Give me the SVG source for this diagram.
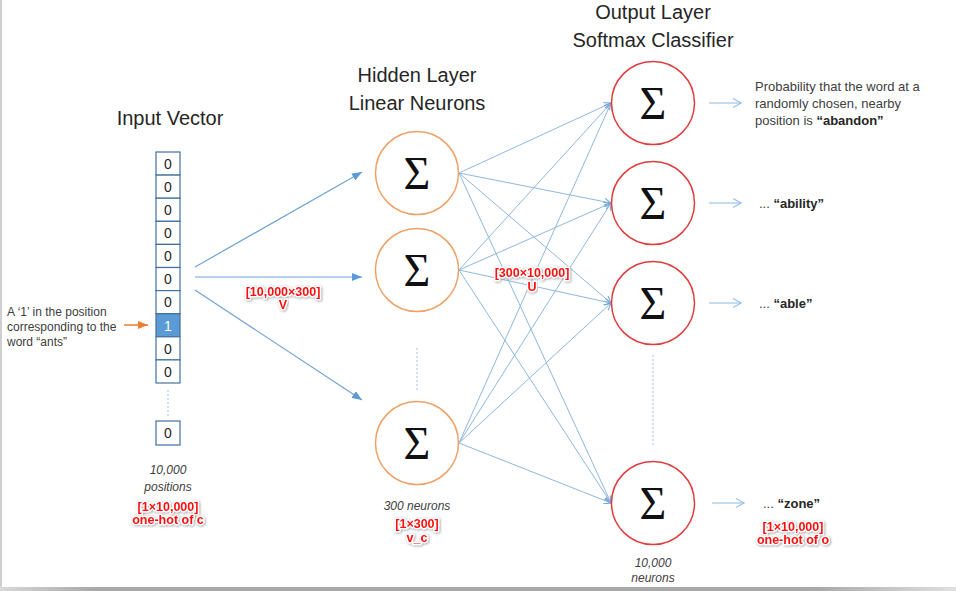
<svg xmlns="http://www.w3.org/2000/svg" width="956" height="591" viewBox="0 0 956 591">
<style>
.title{font-family:"Liberation Sans",Arial,sans-serif;font-size:20px;fill:#262626;text-anchor:middle}
.txt{font-family:"Liberation Sans",Arial,sans-serif;font-size:12px;fill:#404040}
.rtxt{font-family:"Liberation Sans",Arial,sans-serif;font-size:13px;fill:#404040}
.it{font-family:"Liberation Sans",Arial,sans-serif;font-size:12px;font-style:italic;fill:#404040;text-anchor:middle}
.red{font-family:"Liberation Sans",Arial,sans-serif;font-size:12.5px;font-weight:bold;fill:#ff1010;text-anchor:middle;stroke:#fff;stroke-width:3px;paint-order:stroke;stroke-linejoin:round}
.cell{fill:#fff;stroke:#41719c;stroke-width:1.2}
.cellt{font-family:"Liberation Sans",Arial,sans-serif;font-size:14px;fill:#262626;text-anchor:middle}
.hid{fill:#fff;stroke:#f0a064;stroke-width:1.5}
.out{fill:#fff;stroke:#e03c3c;stroke-width:1.5}
.sig{font-family:"Liberation Serif","Times New Roman",serif;font-size:46px;fill:#111;text-anchor:middle}
.in{stroke:#6fa3d6;stroke-width:1.2;fill:none}
.hw{stroke:#8db8e0;stroke-width:1;fill:none}
.oa{stroke:#9dc3e6;stroke-width:1.2;fill:none}
.dot{stroke:#9dc3e6;stroke-width:1;stroke-dasharray:2 2;fill:none}
</style>
<defs>
<marker id="ahIn" markerWidth="10" markerHeight="8" refX="10" refY="4" orient="auto" markerUnits="userSpaceOnUse"><path d="M0,0 L10,4 L0,8 z" fill="#5b9bd5"/></marker>
<marker id="ahHw" markerWidth="8" markerHeight="8" refX="7" refY="4" orient="auto" markerUnits="userSpaceOnUse"><path d="M0,0.5 L7,4 L0,7.5" fill="none" stroke="#6fa3d6" stroke-width="1"/></marker>
<marker id="ahOa" markerWidth="10" markerHeight="10" refX="9" refY="5" orient="auto" markerUnits="userSpaceOnUse"><path d="M1,0.5 L9,5 L1,9.5" fill="none" stroke="#9dc3e6" stroke-width="1.2"/></marker>
<marker id="ahOr" markerWidth="10" markerHeight="8" refX="10" refY="4" orient="auto" markerUnits="userSpaceOnUse"><path d="M0,0 L10,4 L0,8 z" fill="#ed7d31"/></marker>
<linearGradient id="bot" x1="0" y1="0" x2="1" y2="0"><stop offset="0" stop-color="#d8d8d8"/><stop offset="0.1" stop-color="#a8a8a8"/><stop offset="0.85" stop-color="#a8a8a8"/><stop offset="1" stop-color="#e0e0e0"/></linearGradient>
<filter id="sh" x="-10%" y="-30%" width="120%" height="160%"><feDropShadow dx="0.8" dy="0.8" stdDeviation="0.8" flood-color="#888" flood-opacity="0.8"/></filter>
</defs>
<rect x="0" y="0" width="956" height="591" fill="#fff"/>
<rect x="0" y="0" width="2" height="591" fill="#cfcfcf"/>
<rect x="0" y="587" width="956" height="4" fill="url(#bot)"/>

<!-- titles -->
<text class="title" x="170" y="125">Input Vector</text>
<text class="title" x="417" y="82">Hidden Layer</text>
<text class="title" x="417" y="110">Linear Neurons</text>
<text class="title" x="653" y="19">Output Layer</text>
<text class="title" x="653" y="47">Softmax Classifier</text>

<!-- connectors -->
<g id="connectors">
<line class="in" x1="195" y1="267" x2="362" y2="172" marker-end="url(#ahIn)"/>
<line class="in" x1="195" y1="277" x2="362" y2="277" marker-end="url(#ahIn)"/>
<line class="in" x1="195" y1="290" x2="362" y2="400" marker-end="url(#ahIn)"/>
<line x1="124" y1="325" x2="148" y2="325" stroke="#ed7d31" stroke-width="1.5" marker-end="url(#ahOr)"/>
<g class="hw">
<line x1="459" y1="173" x2="611" y2="103" marker-end="url(#ahHw)"/>
<line x1="459" y1="173" x2="611" y2="203" marker-end="url(#ahHw)"/>
<line x1="459" y1="173" x2="611" y2="303" marker-end="url(#ahHw)"/>
<line x1="459" y1="173" x2="611" y2="503" marker-end="url(#ahHw)"/>
<line x1="459" y1="270" x2="611" y2="103" marker-end="url(#ahHw)"/>
<line x1="459" y1="270" x2="611" y2="203" marker-end="url(#ahHw)"/>
<line x1="459" y1="270" x2="611" y2="303" marker-end="url(#ahHw)"/>
<line x1="459" y1="270" x2="611" y2="503" marker-end="url(#ahHw)"/>
<line x1="459" y1="443" x2="611" y2="103" marker-end="url(#ahHw)"/>
<line x1="459" y1="443" x2="611" y2="203" marker-end="url(#ahHw)"/>
<line x1="459" y1="443" x2="611" y2="303" marker-end="url(#ahHw)"/>
<line x1="459" y1="443" x2="611" y2="503" marker-end="url(#ahHw)"/>
</g>
<line class="oa" x1="709" y1="103" x2="741" y2="103" marker-end="url(#ahOa)"/>
<line class="oa" x1="709" y1="203" x2="741" y2="203" marker-end="url(#ahOa)"/>
<line class="oa" x1="709" y1="303" x2="741" y2="303" marker-end="url(#ahOa)"/>
<line class="oa" x1="712" y1="503" x2="744" y2="503" marker-end="url(#ahOa)"/>
<line class="dot" x1="168" y1="390" x2="168" y2="417"/>
<line class="dot" x1="417" y1="348" x2="417" y2="392"/>
<line class="dot" x1="653" y1="355" x2="653" y2="446"/>
</g>

<!-- input vector -->
<g id="input-vector">
<rect class="cell" x="156" y="152" width="24" height="23.1"/>
<rect class="cell" x="156" y="175.1" width="24" height="23.1"/>
<rect class="cell" x="156" y="198.2" width="24" height="23.1"/>
<rect class="cell" x="156" y="221.3" width="24" height="23.1"/>
<rect class="cell" x="156" y="244.4" width="24" height="23.1"/>
<rect class="cell" x="156" y="267.5" width="24" height="23.1"/>
<rect class="cell" x="156" y="290.6" width="24" height="23.1"/>
<rect x="156" y="313.7" width="24" height="23.1" fill="#5b9bd5" stroke="#41719c" stroke-width="1.2"/>
<rect class="cell" x="156" y="336.8" width="24" height="23.1"/>
<rect class="cell" x="156" y="359.9" width="24" height="23.1"/>
<rect class="cell" x="156" y="421" width="24" height="24"/>
<text class="cellt" x="168" y="168.8">0</text>
<text class="cellt" x="168" y="191.9">0</text>
<text class="cellt" x="168" y="215">0</text>
<text class="cellt" x="168" y="238.1">0</text>
<text class="cellt" x="168" y="261.2">0</text>
<text class="cellt" x="168" y="284.3">0</text>
<text class="cellt" x="168" y="307.4">0</text>
<text class="cellt" x="168" y="330.5" style="fill:#fff">1</text>
<text class="cellt" x="168" y="353.6">0</text>
<text class="cellt" x="168" y="376.7">0</text>
<text class="cellt" x="168" y="438">0</text>
</g>
<g id="input-note">
<text class="txt" x="7" y="316">A ‘1’ in the position</text>
<text class="txt" x="7" y="331">corresponding to the</text>
<text class="txt" x="7" y="346">word “ants”</text>
</g>
<g id="input-caption">
<text class="it" x="168" y="474">10,000</text>
<text class="it" x="168" y="491">positions</text>
<text class="red" x="168" y="511" filter="url(#sh)">[1×10,000]</text>
<text class="red" x="168" y="524" filter="url(#sh)">one-hot of c</text>
</g>
<g id="label-V">
<text class="red" x="283" y="296" filter="url(#sh)">[10,000×300]</text>
<text class="red" x="283" y="309" filter="url(#sh)">V</text>
</g>

<!-- hidden -->
<g id="hidden-1"><circle class="hid" cx="417" cy="173" r="41.5"/><text class="sig" x="417" y="189">Σ</text></g>
<g id="hidden-2"><circle class="hid" cx="417" cy="270" r="41.5"/><text class="sig" x="417" y="286">Σ</text></g>
<g id="hidden-3"><circle class="hid" cx="417" cy="443" r="41.5"/><text class="sig" x="417" y="459">Σ</text></g>
<g id="hidden-caption">
<text class="it" x="417" y="510">300 neurons</text>
<text class="red" x="417" y="528" filter="url(#sh)">[1×300]</text>
<text class="red" x="417" y="542" filter="url(#sh)">v_c</text>
</g>
<g id="label-U">
<text class="red" x="532" y="277" filter="url(#sh)">[300×10,000]</text>
<text class="red" x="532" y="291" filter="url(#sh)">U</text>
</g>

<!-- output -->
<g id="output-1"><circle class="out" cx="653" cy="103" r="41.5"/><text class="sig" x="653" y="119">Σ</text></g>
<g id="output-2"><circle class="out" cx="653" cy="203" r="41.5"/><text class="sig" x="653" y="219">Σ</text></g>
<g id="output-3"><circle class="out" cx="653" cy="303" r="41.5"/><text class="sig" x="653" y="319">Σ</text></g>
<g id="output-4"><circle class="out" cx="653" cy="503" r="41.5"/><text class="sig" x="653" y="519">Σ</text></g>
<g id="output-caption">
<text class="it" x="653" y="567">10,000</text>
<text class="it" x="653" y="582">neurons</text>
</g>
<g id="output-labels">
<text class="rtxt" x="755" y="90.5">Probability that the word at a</text>
<text class="rtxt" x="755" y="107.5">randomly chosen, nearby</text>
<text class="rtxt" x="755" y="124.5">position is <tspan font-weight="bold" fill="#262626">“abandon”</tspan></text>
<text class="rtxt" x="759" y="207.5">... <tspan font-weight="bold" fill="#262626">“ability”</tspan></text>
<text class="rtxt" x="759" y="307.5">... <tspan font-weight="bold" fill="#262626">“able”</tspan></text>
<text class="rtxt" x="763" y="507.5">... <tspan font-weight="bold" fill="#262626">“zone”</tspan></text>
<text class="red" x="793" y="531" filter="url(#sh)">[1×10,000]</text>
<text class="red" x="793" y="544" filter="url(#sh)">one-hot of o</text>
</g>
</svg>
